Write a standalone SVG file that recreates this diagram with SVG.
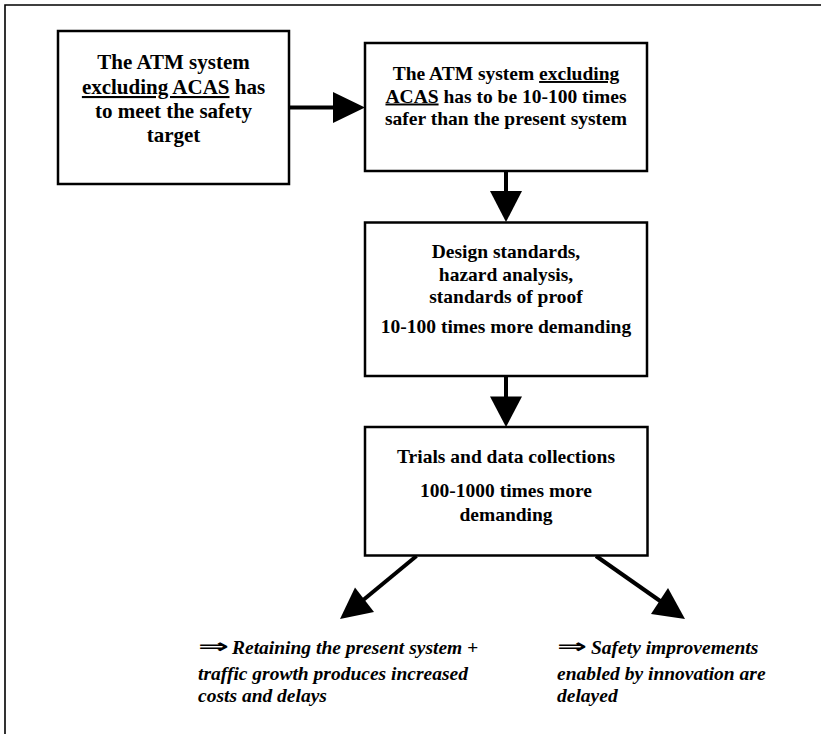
<svg xmlns="http://www.w3.org/2000/svg" width="821" height="734" viewBox="0 0 821 734">
<style>
.box{fill:#fff;stroke:#000;stroke-width:2.5}
.t{font-family:"Liberation Serif","Times New Roman",serif;font-weight:bold;font-size:19.5px;fill:#000;text-anchor:middle}
.t1{font-size:21px}
.i{font-family:"Liberation Serif","Times New Roman",serif;font-weight:bold;font-style:italic;font-size:19.5px;fill:#000}
.arr{font-family:"DejaVu Sans",sans-serif;font-weight:bold;font-style:normal;font-size:20px;fill:#000}
.u{text-decoration:underline}
.ln{stroke:#000;stroke-width:4;fill:none}
.hd{fill:#000;stroke:none}
</style>
<g id="frame">
<path d="M5,734 V5 H821" fill="none" stroke="#000" stroke-width="1.6"/>
</g>
<g id="connectors">
<line class="ln" x1="289" y1="107.5" x2="336" y2="107.5"/>
<polygon class="hd" points="333,92 365,107.5 333,123"/>
<line class="ln" x1="506" y1="171" x2="506" y2="194"/>
<polygon class="hd" points="490,191 522,191 506,222"/>
<line class="ln" x1="506" y1="376" x2="506" y2="399"/>
<polygon class="hd" points="490,396.5 522,396.5 506,427"/>
<line class="ln" x1="416.5" y1="556" x2="362" y2="601"/>
<polygon class="hd" points="340,619 355,587.5 374,612"/>
<line class="ln" x1="596" y1="556" x2="663" y2="603"/>
<polygon class="hd" points="685,619 668,588 651,614"/>
</g>
<g id="node1">
<rect class="box" x="58" y="31" width="231" height="153"/>
<text class="t t1" x="173.5" y="69">The ATM system</text>
<text class="t t1" x="173.5" y="94"><tspan class="u">excluding ACAS</tspan> has</text>
<text class="t t1" x="173.5" y="118">to meet the safety</text>
<text class="t t1" x="173.5" y="142">target</text>
</g>
<g id="node2">
<rect class="box" x="365" y="43" width="282" height="128"/>
<text class="t" x="506" y="80">The ATM system <tspan class="u">excluding</tspan></text>
<text class="t" x="506" y="102.5"><tspan class="u">ACAS</tspan> has to be 10-100 times</text>
<text class="t" x="506" y="125">safer than the present system</text>
</g>
<g id="node3">
<rect class="box" x="365" y="222.5" width="282" height="153.5"/>
<text class="t" x="506" y="258">Design standards,</text>
<text class="t" x="506" y="281">hazard analysis,</text>
<text class="t" x="506" y="303">standards of proof</text>
<text class="t" x="506" y="333">10-100 times more demanding</text>
</g>
<g id="node4">
<rect class="box" x="365" y="427" width="282.5" height="128.5"/>
<text class="t" x="506" y="463">Trials and data collections</text>
<text class="t" x="506" y="497">100-1000 times more</text>
<text class="t" x="506" y="520.5">demanding</text>
</g>
<g id="outcome1">
<text class="arr" x="198" y="653" textLength="31" lengthAdjust="spacingAndGlyphs">⇒</text>
<text class="i" x="232" y="654">Retaining the present system +</text>
<text class="i" x="198" y="680">traffic growth produces increased</text>
<text class="i" x="198" y="702">costs and delays</text>
</g>
<g id="outcome2">
<text class="arr" x="557" y="653" textLength="30" lengthAdjust="spacingAndGlyphs">⇒</text>
<text class="i" x="591" y="654">Safety improvements</text>
<text class="i" x="557" y="680">enabled by innovation are</text>
<text class="i" x="557" y="702">delayed</text>
</g>
</svg>
